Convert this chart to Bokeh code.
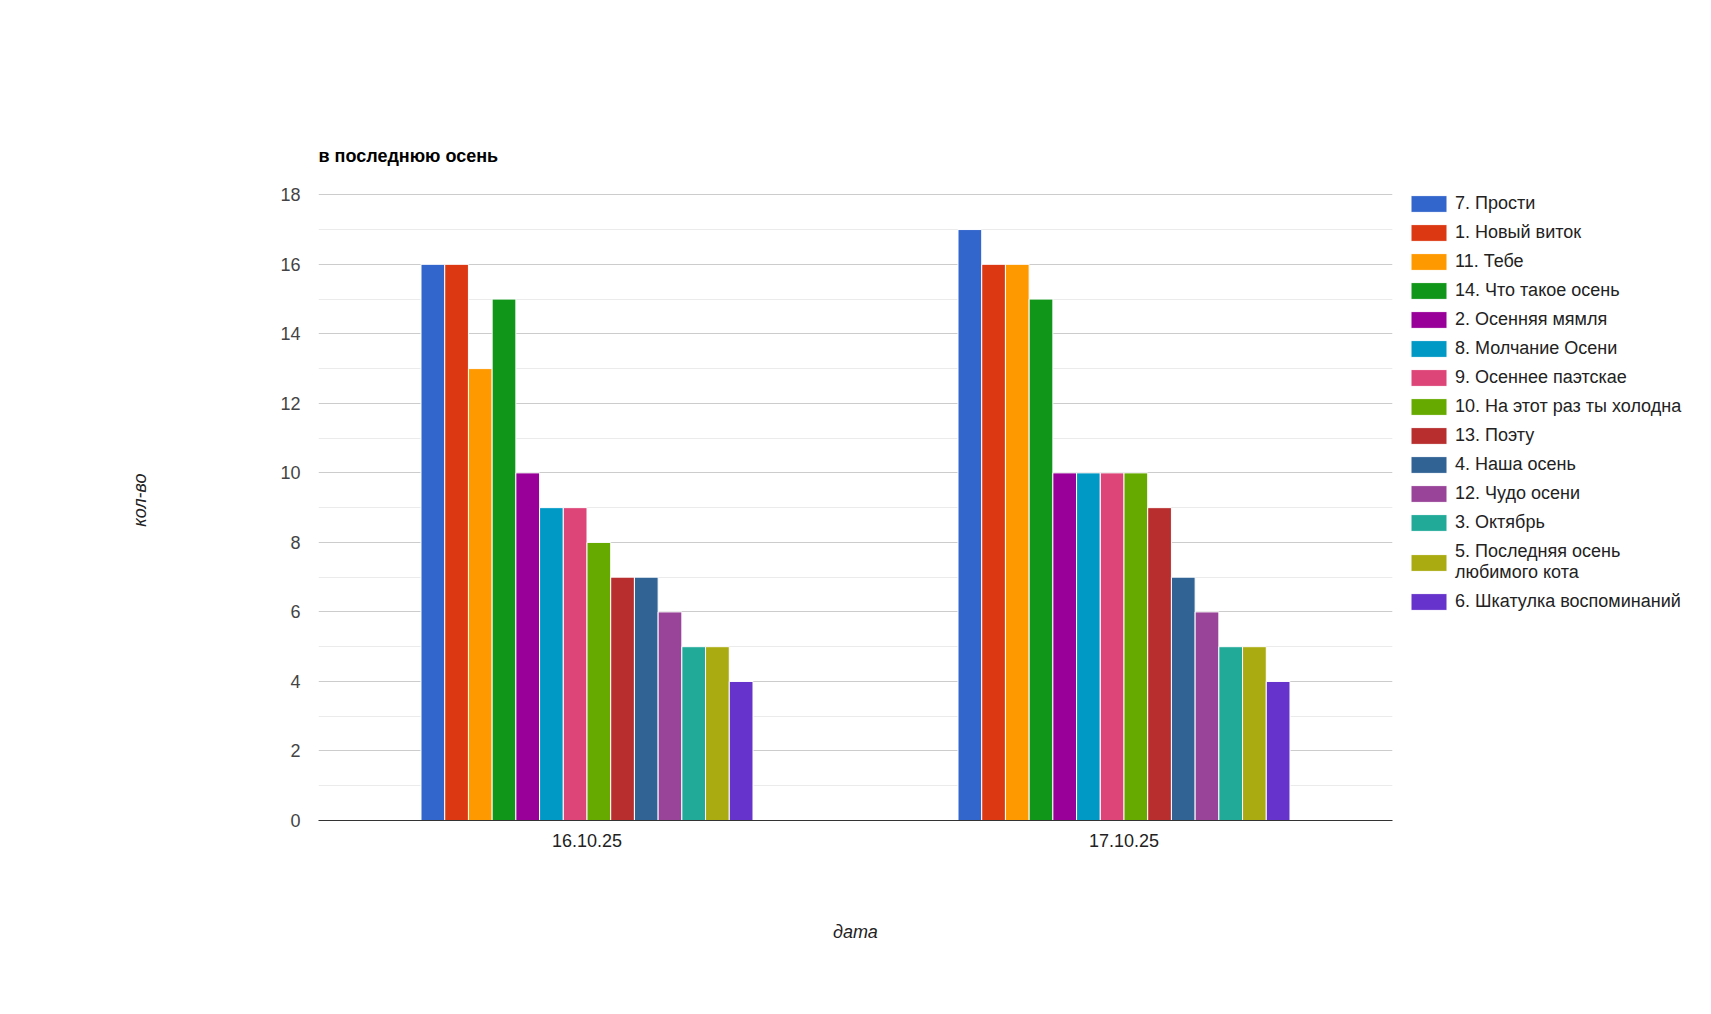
from bokeh.plotting import figure
from bokeh.models import ColumnDataSource, FactorRange, Range1d, FixedTicker, Legend, LegendItem
from bokeh.transform import dodge
from bokeh.embed import file_html
from bokeh.resources import INLINE

dates = ["16.10.25", "17.10.25"]
series = [
    "7. Прости",
    "1. Новый виток",
    "11. Тебе",
    "14. Что такое осень",
    "2. Осенняя мямля",
    "8. Молчание Осени",
    "9. Осеннее паэтскае",
    "10. На этот раз ты холодна",
    "13. Поэту",
    "4. Наша осень",
    "12. Чудо осени",
    "3. Октябрь",
    "5. Последняя осень любимого кота",
    "6. Шкатулка воспоминаний",
]
legend_labels = [s if s != "5. Последняя осень любимого кота" else "5. Последняя осень\nлюбимого кота" for s in series]
values_1610 = [16, 16, 13, 15, 10, 9, 9, 8, 7, 7, 6, 5, 5, 4]
values_1710 = [17, 16, 16, 15, 10, 10, 10, 10, 9, 7, 6, 5, 5, 4]
colors = ["#3366cc", "#dc3912", "#ff9900", "#109618", "#990099", "#0099c6", "#dd4477",
          "#66aa00", "#b82e2e", "#316395", "#994499", "#22aa99", "#aaaa11", "#6633cc"]
y_ticks = [0, 2, 4, 6, 8, 10, 12, 14, 16, 18]
y_minor = [1, 3, 5, 7, 9, 11, 13, 15, 17]

FONT = "Liberation Sans"

data = {"date": dates}
for i in range(len(series)):
    data[f"s{i}"] = [values_1610[i], values_1710[i]]
src = ColumnDataSource(data)

p = figure(
    x_range=FactorRange(factors=dates, range_padding=0),
    y_range=Range1d(0, 18.44),
    frame_width=1074, frame_height=641,
    min_border_left=318, min_border_top=179, min_border_right=306, min_border_bottom=178,
    output_backend="svg", toolbar_location=None,
    title="в последнюю осень",
)
p.outline_line_color = None
p.background_fill_color = "white"
p.border_fill_color = "white"

n = len(series)
group_frac = 0.6182
w = group_frac / n
items = []
for i in range(n):
    r = p.vbar(x=dodge("date", (i - (n - 1) / 2) * w, range=p.x_range), top=f"s{i}", width=w,
               source=src, fill_color=colors[i], line_color="white", line_width=1)
    items.append(LegendItem(label=legend_labels[i], renderers=[r]))

p.title.text_font = FONT
p.title.text_font_size = "18px"
p.title.text_font_style = "bold"
p.title.text_color = "#000000"
p.title.align = "left"
p.title.standoff = 27

ya = p.yaxis[0]
ya.ticker = FixedTicker(ticks=y_ticks, minor_ticks=y_minor)
ya.major_label_text_font = FONT
ya.major_label_text_font_size = "18px"
ya.major_label_text_color = "#444444"
ya.axis_line_color = None
ya.major_tick_line_color = None
ya.minor_tick_line_color = None
ya.major_tick_out = 0
ya.major_tick_in = 0
ya.minor_tick_out = 0
ya.major_label_standoff = 18
ya.axis_label = "кол-во"
ya.axis_label_text_font = FONT
ya.axis_label_text_font_size = "18px"
ya.axis_label_text_font_style = "italic"
ya.axis_label_text_color = "#222222"
ya.axis_label_standoff = 127

xa = p.xaxis[0]
xa.axis_line_color = "#333333"
xa.axis_line_width = 1
xa.major_tick_line_color = None
xa.major_tick_out = 0
xa.major_tick_in = 0
xa.major_label_text_font = FONT
xa.major_label_text_font_size = "18px"
xa.major_label_text_color = "#222222"
xa.major_label_standoff = 13
xa.axis_label = "дата"
xa.axis_label_text_font = FONT
xa.axis_label_text_font_size = "18px"
xa.axis_label_text_font_style = "italic"
xa.axis_label_text_color = "#222222"
xa.axis_label_standoff = 72

p.ygrid.grid_line_color = "#cccccc"
p.ygrid.minor_grid_line_color = "#ebebeb"
p.xgrid.grid_line_color = None

legend = Legend(items=items, location="top_left", margin=14, padding=0,
                border_line_color=None, background_fill_alpha=0,
                glyph_width=45, glyph_height=21, label_height=21, spacing=8,
                label_text_font=FONT, label_text_font_size="18px",
                label_text_line_height=1.35,
                label_text_color="#222222", label_standoff=4)
p.add_layout(legend, "right")

open("out.html", "w").write(file_html(p, INLINE))
